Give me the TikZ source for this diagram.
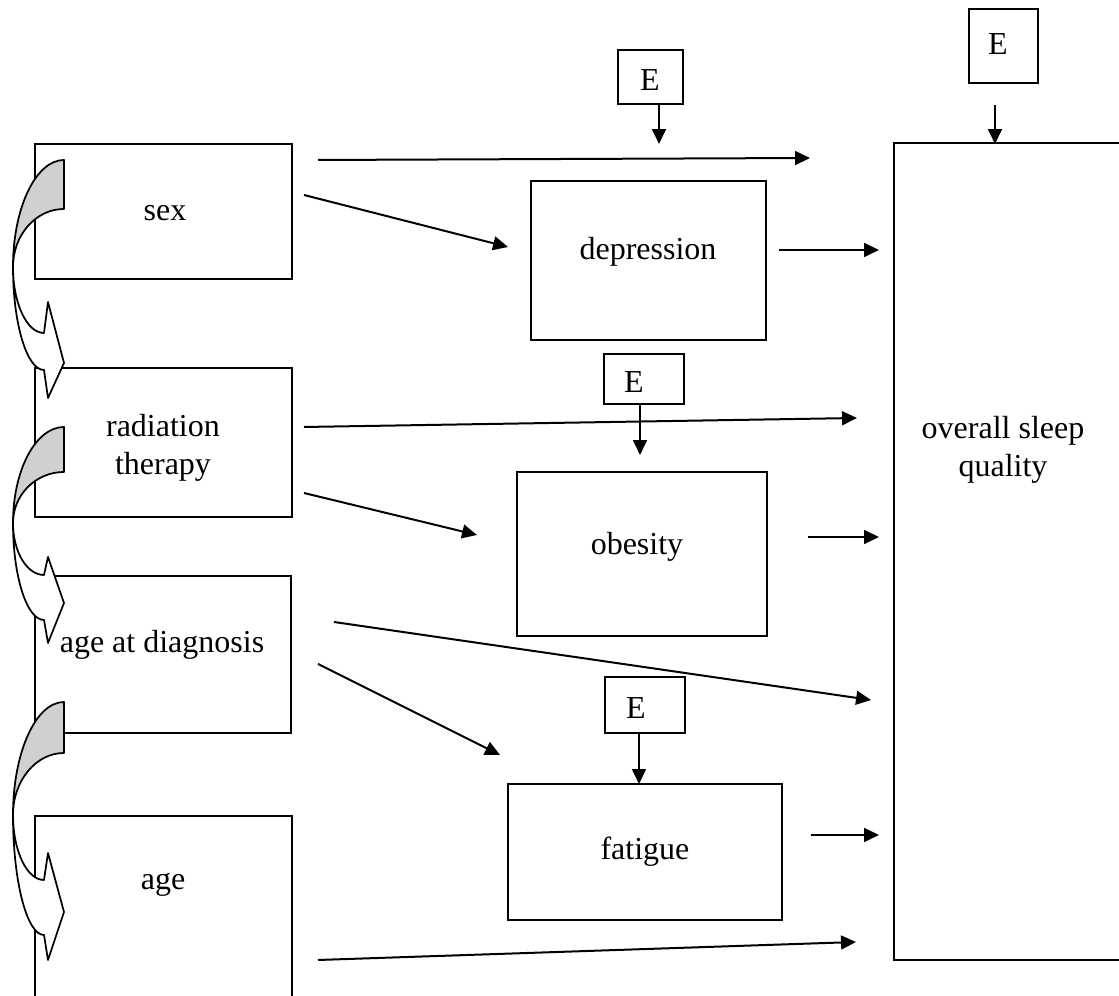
\documentclass[tikz,border=0pt]{standalone}
\usepackage{fontspec}
\setmainfont{Liberation Serif}
\usetikzlibrary{fit,arrows.meta}
\definecolor{swooshgray}{RGB}{208,208,208}
% curved block arrow on the left edge:
% #1 top y, #2 bottom of back face, #3 crossing y, #4 upper shaft end,
% #5 upper barb, #6 tip, #7 lower barb, #8 lower shaft end
\newcommand\swoosh[8]{%
  \filldraw[swooshline, fill=swooshgray]
    (64,#1) .. controls (35.83,#1) and (13,{#3-0.5523*(#3-#1)}) .. (13,#3)
    .. controls (13,{#3-0.5523*(#3-#2)}) and (35.83,#2) .. (64,#2) -- cycle;
  \filldraw[swooshline, fill=white]
    (13,#3) .. controls (13,{#3+0.5523*(#4-#3)}) and (26.88,#4) .. (44,#4)
    -- (48,#5) -- (64,#6) -- (48,#7) -- (44,#8)
    .. controls (26.88,#8) and (13,{#3+0.5523*(#8-#3)}) .. (13,#3) -- cycle;
}
\begin{document}
\begin{tikzpicture}[x=0.375pt,y=-0.375pt,
  box/.style={draw,line width=0.75pt,inner sep=0pt},
  lbl/.style={font=\fontsize{12}{14}\selectfont,align=center,inner sep=0pt},
  conn/.style={line width=0.75pt,-{Triangle[length=5.6pt,width=5.2pt]}},
  swooshline/.style={line width=0.65pt,line join=round}]
\useasboundingbox (0,0) rectangle (1119,996);
\clip (0,0) rectangle (1119,996);
\fill[white] (0,0) rectangle (1119,996);

% predictors
\node[box,fit={(35,144)(292,279)}] (sex) {};
\node[lbl] (sext) at (165,213) {sex};
\node[box,fit={(35,368)(292,517)}] (rad) {};
\node[lbl] (radt) at (163,448) {radiation\\therapy};
\node[box,fit={(35,576)(291,733)}] (diag) {};
\node[lbl] (diagt) at (162,645) {age at diagnosis};
\node[box,fit={(35,816)(292,1010)}] (age) {};
\node[lbl] (aget) at (163,885) {age};

% mediators
\node[box,fit={(531,181)(766,340)}] (dep) {};
\node[lbl] (dept) at (648,252) {depression};
\node[box,fit={(517,472)(767,636)}] (obe) {};
\node[lbl] (obet) at (637,547) {obesity};
\node[box,fit={(508,784)(782,920)}] (fat) {};
\node[lbl] (fatt) at (645,852) {fatigue};

% outcome
\node[box,fit={(894,143)(1130,960)}] (sleep) {};
\node[lbl] (sleept) at (1003,450) {overall sleep\\quality};

% error terms
\node[box,fit={(618,50)(683,104)}] (e1) {};
\node[lbl] (e1t) at (650,80) {E};
\node[box,fit={(969,9)(1038,83)}] (e0) {};
\node[lbl] (e0t) at (998,44) {E};
\node[box,fit={(604,354)(684,404)}] (e2) {};
\node[lbl] (e2t) at (634,382) {E};
\node[box,fit={(605,677)(685,733)}] (e3) {};
\node[lbl] (e3t) at (636,708) {E};

% connector end points
\coordinate (a1s) at (318,160);  \coordinate (a1e) at (810,158);
\coordinate (a2s) at (304,195);  \coordinate (a2e) at (508,247);
\coordinate (a3s) at (779,250);  \coordinate (a3e) at (879,250);
\coordinate (a4s) at (304,427);  \coordinate (a4e) at (857,418);
\coordinate (a5s) at (304,493);  \coordinate (a5e) at (477,535);
\coordinate (a6s) at (808,537);  \coordinate (a6e) at (879,537);
\coordinate (a7s) at (334,622);  \coordinate (a7e) at (871,700);
\coordinate (a8s) at (318,664);  \coordinate (a8e) at (500,755);
\coordinate (a9s) at (811,835);  \coordinate (a9e) at (879,835);
\coordinate (a10s) at (318,960); \coordinate (a10e) at (856,942);
\coordinate (ex1s) at (659,104); \coordinate (ex1e) at (659,144);
\coordinate (ex0s) at (995,105); \coordinate (ex0e) at (995,144);
\coordinate (ex2s) at (640,404); \coordinate (ex2e) at (640,455);
\coordinate (ex3s) at (639,733); \coordinate (ex3e) at (639,784);

\foreach \n in {a1,a2,a3,a4,a5,a6,a7,a8,a9,a10,ex1,ex0,ex2,ex3}
  \draw[conn] (\n s) -- (\n e);

% correlation arrows between neighbouring predictors
\swoosh{160}{209}{267}{333}{302}{363}{398}{370}
\swoosh{427}{472}{523}{575}{557}{603}{643}{620}
\swoosh{702}{753}{815}{880}{853}{912}{960}{935}
\end{tikzpicture}
\end{document}
